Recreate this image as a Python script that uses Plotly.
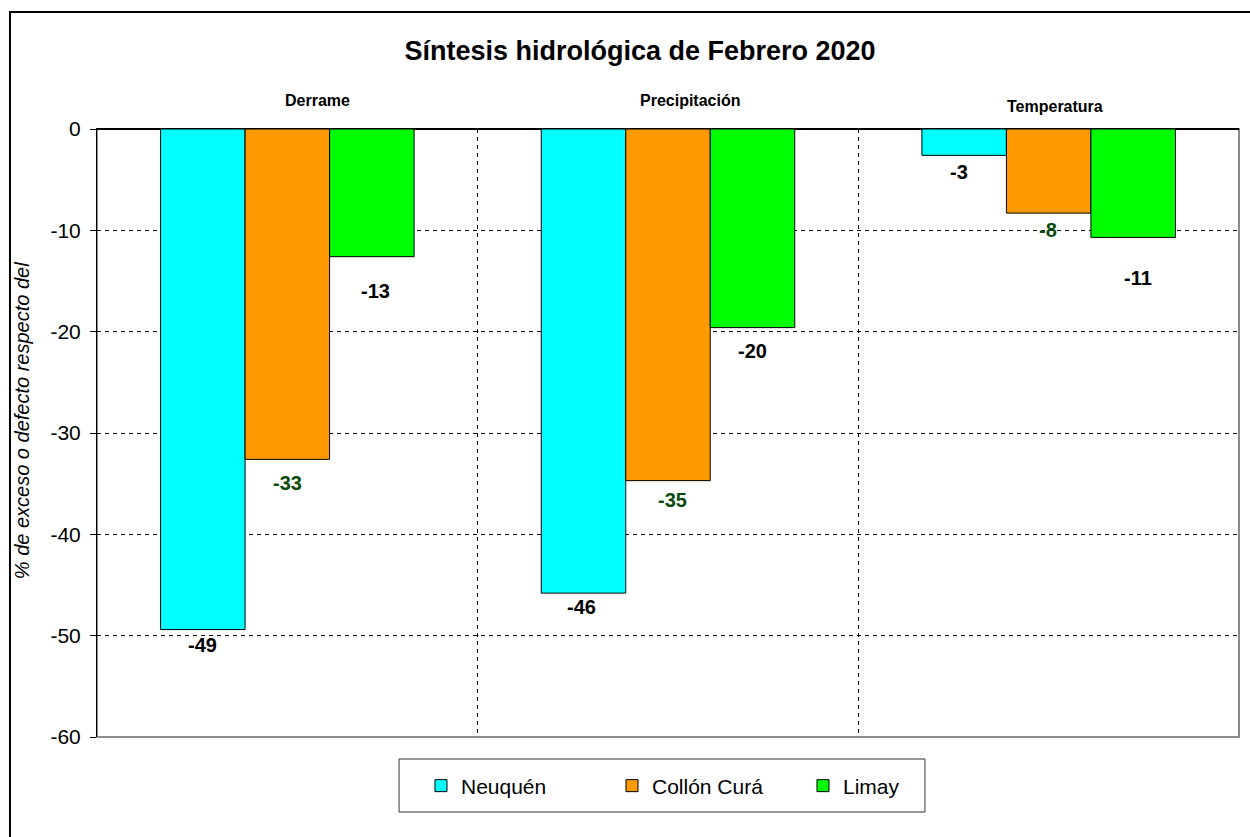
import plotly.graph_objects as go

categories = ["Derrame", "Precipitación", "Temperatura"]
series_names = ["Neuquén", "Collón Curá", "Limay"]
neuquen = [-49.4, -45.8, -2.6]
collon_cura = [-32.6, -34.7, -8.3]
limay = [-12.6, -19.6, -10.7]
y_ticks = [0, -10, -20, -30, -40, -50, -60]
y_tick_labels = ["0", "-10", "-20", "-30", "-40", "-50", "-60"]

values = [neuquen, collon_cura, limay]
colors = ["#00FFFF", "#FF9900", "#00FF00"]
label_colors = ["#000000", "#0a4a0a", "#000000"]
# pixel offsets of value labels (style only)
label_yshift = [[-15, -14, -17], [-24, -19, -17], [-34, -23, -41]]
label_xshift = [[0, -2, -5], [0, 4, -1], [4, 0, 5]]
bar_offset_px = [-84.5, 0, 84.5]

FONT = "Liberation Sans, Arial, sans-serif"

fig = go.Figure()
for i, name in enumerate(series_names):
    fig.add_trace(go.Bar(
        x=categories, y=values[i], name=name,
        marker=dict(color=colors[i], line=dict(color="#000000", width=1)),
    ))

annotations = []
for i in range(3):
    for j, cat in enumerate(categories):
        v = values[i][j]
        annotations.append(dict(
            x=cat, y=v, xref="x", yref="y", text=str(int(round(v))),
            showarrow=False, yanchor="middle", xanchor="center",
            xshift=bar_offset_px[i] + label_xshift[i][j], yshift=label_yshift[i][j],
            font=dict(family=FONT, size=20, color=label_colors[i], weight="bold"),
        ))

cat_xshift = [30, 22, 6]
cat_yshift = [29, 29, 23]
for j, cat in enumerate(categories):
    annotations.append(dict(
        x=cat, y=1, xref="x", yref="paper", text=cat, showarrow=False,
        xanchor="center", yanchor="middle", xshift=cat_xshift[j], yshift=cat_yshift[j],
        font=dict(family=FONT, size=16, color="#000000", weight="bold"),
    ))

annotations.append(dict(
    x=-0.0657, y=0.521, xref="paper", yref="paper", xanchor="center", yanchor="middle",
    text="% de exceso o defecto respecto del", textangle=-90, showarrow=False,
    font=dict(family=FONT, size=20, color="#000000", style="italic"),
))

shapes = [
    # outer chart border
    dict(type="rect", xref="paper", yref="paper", x0=-0.0762, x1=1.05, y0=-0.25, y1=1.1924,
         line=dict(color="#000000", width=2), layer="below"),
    # plot area border (gray right/bottom)
    dict(type="rect", xref="paper", yref="paper", x0=0, x1=1, y0=0, y1=1,
         line=dict(color="#8c8c8c", width=2), layer="below"),
    # legend box
    dict(type="rect", xref="paper", yref="paper", x0=0.2645, x1=0.7250, y0=-0.1234, y1=-0.0362,
         line=dict(color="#333333", width=1), fillcolor="rgba(0,0,0,0)"),
]

fig.update_layout(
    width=1250, height=837,
    margin=dict(l=97, r=11, t=129, b=100),
    paper_bgcolor="#FFFFFF", plot_bgcolor="#FFFFFF",
    barmode="group", bargap=0.334, bargroupgap=0,
    title=dict(text="<b>Síntesis hidrológica de Febrero 2020</b>", x=0.512, xanchor="center",
               y=1 - 51 / 837, yanchor="middle", yref="container",
               font=dict(family=FONT, size=27, color="#000000")),
    xaxis=dict(side="top", showticklabels=False, ticks="", showline=True, linecolor="#000000",
               linewidth=1, showgrid=True, gridcolor="#000000", griddash="4px,4px", gridwidth=1,
               tickson="boundaries"),
    yaxis=dict(range=[-60, 0], tickvals=y_ticks, ticktext=y_tick_labels, showline=True,
               linecolor="#000000", linewidth=1, ticks="outside", ticklen=6, tickcolor="#000000",
               showgrid=True, gridcolor="#000000", griddash="4px,4px", gridwidth=1,
               zeroline=True, zerolinecolor="#000000", zerolinewidth=1, ticklabelstandoff=5,
               tickfont=dict(family=FONT, size=21, color="#000000")),
    legend=dict(orientation="h", x=0.2837, y=-0.0806, xanchor="left", yanchor="middle",
                borderwidth=0, bgcolor="rgba(0,0,0,0)",
                font=dict(family=FONT, size=21, color="#000000"),
                entrywidth=146, entrywidthmode="pixels", traceorder="normal"),
    annotations=annotations, shapes=shapes, showlegend=True,
)

fig.write_html("out.html", config={"displayModeBar": False},
               post_script="document.body.style.margin='0';")
